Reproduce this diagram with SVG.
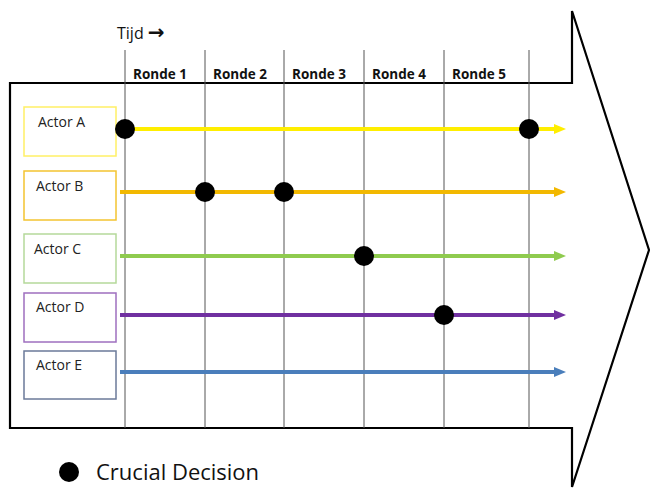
<svg xmlns="http://www.w3.org/2000/svg" width="650" height="492" viewBox="0 0 650 492">
<style>
.frame{fill:none;stroke:#000;stroke-width:2.2;stroke-linejoin:miter}
.grid{stroke:#555;stroke-width:1}
.box{fill:#fff;stroke-width:1.5}
.lbl{font-family:"Open Sans","Liberation Sans",sans-serif;font-size:14px;fill:#222}
.ronde{font-family:"Open Sans","Liberation Sans",sans-serif;font-size:13.5px;font-weight:bold;fill:#111}
.line{fill:none;stroke-width:4}
.dot{fill:#000}
</style>
<defs>
<marker id="ay" markerWidth="12" markerHeight="10" refX="0" refY="5" orient="auto" markerUnits="userSpaceOnUse"><path d="M0,0 L12,5 L0,10 Z" fill="#FFEE00"/></marker>
<marker id="ao" markerWidth="12" markerHeight="10" refX="0" refY="5" orient="auto" markerUnits="userSpaceOnUse"><path d="M0,0 L12,5 L0,10 Z" fill="#F2B800"/></marker>
<marker id="ag" markerWidth="12" markerHeight="10" refX="0" refY="5" orient="auto" markerUnits="userSpaceOnUse"><path d="M0,0 L12,5 L0,10 Z" fill="#8FCB4F"/></marker>
<marker id="ap" markerWidth="12" markerHeight="10" refX="0" refY="5" orient="auto" markerUnits="userSpaceOnUse"><path d="M0,0 L12,5 L0,10 Z" fill="#7030A0"/></marker>
<marker id="ab" markerWidth="12" markerHeight="10" refX="0" refY="5" orient="auto" markerUnits="userSpaceOnUse"><path d="M0,0 L12,5 L0,10 Z" fill="#4A7EBB"/></marker>
</defs>
<rect width="650" height="492" fill="#fff"/>
<g id="frame">
<path class="frame" d="M10,83 L572,83 L572,11 L649,250 L572,487 L572,428 L10,428 Z"/>
</g>
<g id="timeline">
<text x="117" y="39" font-family="Open Sans,Liberation Sans,sans-serif" font-size="16" fill="#111">Tijd <tspan font-family="DejaVu Sans,sans-serif" font-size="20" font-weight="bold">→</tspan></text>
<line class="grid" x1="125" y1="50" x2="125" y2="428"/>
<line class="grid" x1="205" y1="50" x2="205" y2="428"/>
<line class="grid" x1="284" y1="50" x2="284" y2="428"/>
<line class="grid" x1="364" y1="50" x2="364" y2="428"/>
<line class="grid" x1="444" y1="50" x2="444" y2="428"/>
<line class="grid" x1="529" y1="50" x2="529" y2="428"/>
<text class="ronde" x="133" y="79">Ronde 1</text>
<text class="ronde" x="213" y="79">Ronde 2</text>
<text class="ronde" x="292" y="79">Ronde 3</text>
<text class="ronde" x="372" y="79">Ronde 4</text>
<text class="ronde" x="452" y="79">Ronde 5</text>
</g>
<g id="actorA"><rect class="box" x="24" y="107" width="92" height="49" stroke="#FFF066"/><text class="lbl" x="38" y="127">Actor A</text></g>
<g id="actorB"><rect class="box" x="24" y="171" width="92" height="49" stroke="#F3C431"/><text class="lbl" x="36" y="191">Actor B</text></g>
<g id="actorC"><rect class="box" x="24" y="234" width="92" height="49" stroke="#B5D99A"/><text class="lbl" x="34" y="254">Actor C</text></g>
<g id="actorD"><rect class="box" x="24" y="293" width="92" height="49" stroke="#9E6FBF"/><text class="lbl" x="36" y="312">Actor D</text></g>
<g id="actorE"><rect class="box" x="24" y="351" width="92" height="48" stroke="#6B7A99"/><text class="lbl" x="36" y="370">Actor E</text></g>
<g id="connectors">
<line class="line" x1="125" y1="129" x2="554" y2="129" stroke="#FFEE00" marker-end="url(#ay)"/>
<line class="line" x1="120" y1="192" x2="554" y2="192" stroke="#F2B800" marker-end="url(#ao)"/>
<line class="line" x1="120" y1="256" x2="554" y2="256" stroke="#8FCB4F" stroke-width="3" marker-end="url(#ag)"/>
<line class="line" x1="120" y1="315" x2="554" y2="315" stroke="#7030A0" marker-end="url(#ap)"/>
<line class="line" x1="120" y1="372" x2="554" y2="372" stroke="#4A7EBB" marker-end="url(#ab)"/>
</g>
<g id="decisions">
<circle class="dot" cx="125" cy="129" r="10"/>
<circle class="dot" cx="529" cy="129" r="10"/>
<circle class="dot" cx="205" cy="192" r="10"/>
<circle class="dot" cx="284" cy="192" r="10"/>
<circle class="dot" cx="364" cy="256" r="10"/>
<circle class="dot" cx="444" cy="315" r="10"/>
</g>
<g id="legend">
<circle class="dot" cx="69" cy="472" r="10"/>
<text x="96" y="480" font-family="Open Sans,Liberation Sans,sans-serif" font-size="22" fill="#111">Crucial Decision</text>
</g>
</svg>
